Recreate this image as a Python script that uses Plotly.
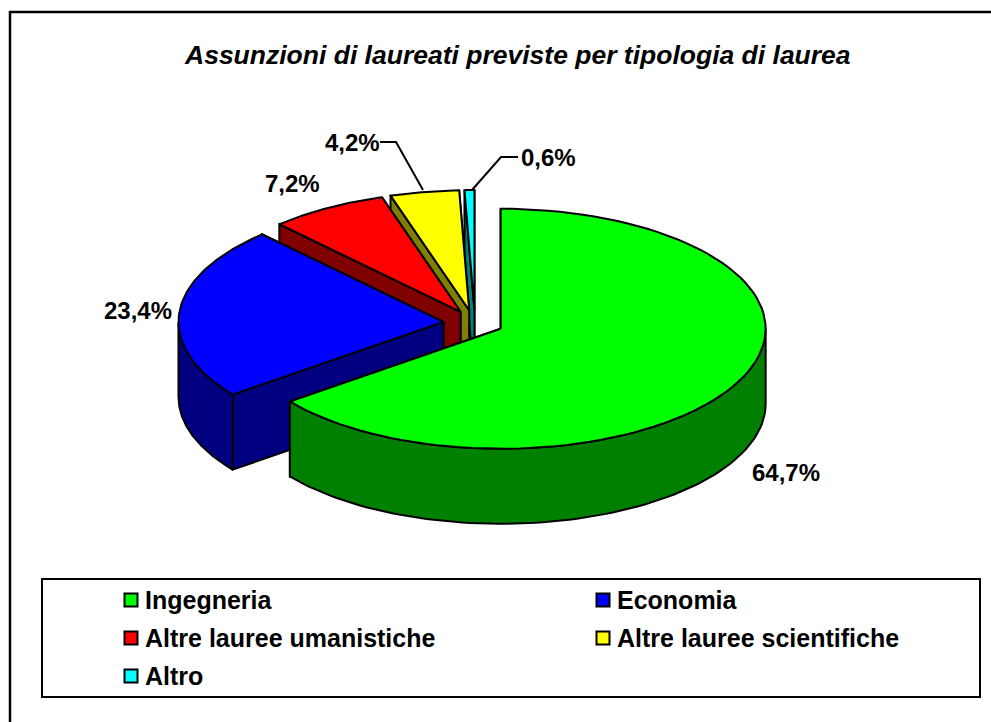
import math
import plotly.graph_objects as go

# ---- data ----
categories = ["Ingegneria", "Economia", "Altre lauree umanistiche", "Altre lauree scientifiche", "Altro"]
values = [64.7, 23.4, 7.2, 4.2, 0.6]
title_text = "Assunzioni di laureati previste per tipologia di laurea"

# ---- styles / layout ----
top_colors = ["#00FF00", "#0000FF", "#FF0000", "#FFFF00", "#00FFFF"]
side_colors = ["#008000", "#000080", "#800000", "#808000", "#008080"]
FONT = "Liberation Sans, Arial, sans-serif"
CX, CY, RX, RY, DEPTH, EXPLODE = 475.0, 323.0, 265.0, 120.0, 75.0, 0.108
nudge_x = [0.0, -3.0, 0.0, -1.0, 0.0]

total = sum(values)
spans = []
start = 0.0
for v in values:
    end = start + v / total * 360.0
    spans.append((start, end))
    start = end


def rim(tip, deg, dy=0.0):
    a = math.radians(deg)
    return tip[0] + RX * math.sin(a), tip[1] - RY * math.cos(a) + dy


def arc(tip, a0, a1, dy=0.0, n=90):
    return [rim(tip, a0 + (a1 - a0) * i / n, dy) for i in range(n + 1)]


def poly(fig, pts, color, name, close=True):
    if close:
        pts = list(pts) + [pts[0]]
    fig.add_trace(go.Scatter(
        x=[p[0] for p in pts], y=[p[1] for p in pts], mode="lines", fill="toself",
        fillcolor=color, line=dict(color="black", width=2, shape="linear"),
        name=name, showlegend=False, hoverinfo="skip"))


fig = go.Figure()
order = [4, 3, 2, 1, 0]  # back to front
for i in order:
    a0, a1 = spans[i]
    mid = math.radians((a0 + a1) / 2)
    tip = (CX + EXPLODE * RX * math.sin(mid) + nudge_x[i], CY - EXPLODE * RY * math.cos(mid))
    low = (tip[0], tip[1] + DEPTH)
    for a in (a1, a0):
        e = rim(tip, a)
        poly(fig, [tip, e, (e[0], e[1] + DEPTH), low], side_colors[i], categories[i])
    # outer wall: only the part turned towards the viewer
    f0, f1 = max(a0, 90), min(a1, 270)
    if i == 0:
        f0, f1 = 90, a1
    if f1 > f0:
        poly(fig, arc(tip, f0, f1) + arc(tip, f1, f0, DEPTH), side_colors[i], categories[i])
    poly(fig, [tip] + arc(tip, a0, a1), top_colors[i], categories[i])

# leader lines
leaders = [
    [(423, 190), (396, 142), (380, 142)],
    [(472, 190), (501, 157), (518, 157)],
]
for pts in leaders:
    fig.add_trace(go.Scatter(x=[p[0] for p in pts], y=[p[1] for p in pts], mode="lines",
                             line=dict(color="black", width=2), showlegend=False, hoverinfo="skip"))

anns = []
label_pos = [(786, 472), (138, 310), (292, 183), (352, 142), (548, 157)]
for v, (x, y) in zip(values, label_pos):
    anns.append(dict(x=x, y=y, xref="x", yref="y", text=f"<b>{v:.1f}%</b>".replace(".", ","),
                     showarrow=False, font=dict(family=FONT, size=24, color="black")))
anns.append(dict(x=517, y=55, xref="x", yref="y", text=f"<b><i>{title_text}</i></b>", showarrow=False,
                 font=dict(family=FONT, size=26.5, color="black")))

# legend
legend_slots = [(131, 600), (603, 600), (131, 638), (603, 638), (131, 676)]
shapes = [
    dict(type="rect", x0=10, y0=12, x1=1010, y1=760, xref="x", yref="y", line=dict(color="black", width=2.5), layer="below"),
    dict(type="rect", x0=42, y0=579, x1=980, y1=697, xref="x", yref="y", line=dict(color="black", width=2), layer="below"),
]
for name, color, (x, y) in zip(categories, top_colors, legend_slots):
    fig.add_trace(go.Scatter(x=[x], y=[y], mode="markers", name=name, showlegend=False, hoverinfo="skip",
                             marker=dict(symbol="square", size=13, color=color, line=dict(color="black", width=2))))
    anns.append(dict(x=x + 12, y=y, xref="x", yref="y", xanchor="left", text=f"<b>{name}</b>", showarrow=False,
                     font=dict(family=FONT, size=25, color="black")))

fig.update_layout(
    width=991, height=722, margin=dict(l=0, r=0, t=0, b=0),
    paper_bgcolor="white", plot_bgcolor="white", showlegend=False,
    xaxis=dict(range=[0, 991], visible=False, fixedrange=True),
    yaxis=dict(range=[722, 0], visible=False, fixedrange=True),
    annotations=anns, shapes=shapes,
)
fig.write_html("out.html", config={"displayModeBar": False},
               post_script="document.body.style.margin='0';document.body.style.overflow='hidden';")
